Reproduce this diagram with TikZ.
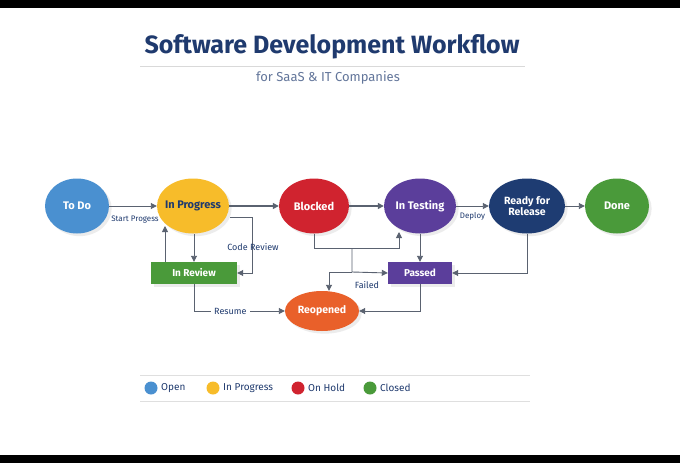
\documentclass[tikz,border=0pt]{standalone}
\usepackage{fontspec}
\setmainfont{Fira Sans}
\usetikzlibrary{arrows.meta,shapes.geometric,shadows}
\definecolor{navy}{HTML}{1F3A6E}
\definecolor{cblue}{HTML}{4A90D0}
\definecolor{cyellow}{HTML}{F7BC2A}
\definecolor{cred}{HTML}{D0232F}
\definecolor{cpurple}{HTML}{5B3E9B}
\definecolor{cnavy}{HTML}{1E3C72}
\definecolor{cgreen}{HTML}{4A9A3A}
\definecolor{corange}{HTML}{E9602A}
\definecolor{cline}{HTML}{5A6270}

\begin{document}
\begin{tikzpicture}[x=1pt,y=-1pt,
    state/.style={ellipse, draw=none, minimum width=#1, minimum height=55pt, inner sep=-4pt,
        text=white, font=\bfseries\fontsize{11}{12}\selectfont, align=center,
        drop shadow={opacity=0.15}},
    box/.style={rectangle, draw=none, minimum height=22pt, text=white,
        font=\bfseries\fontsize{10}{11}\selectfont, drop shadow={opacity=0.15}},
    flow/.style={-{Triangle[length=6pt,width=6pt]}, line width=1.2pt, color=cline},
    thin flow/.style={-{Triangle[length=6pt,width=6pt]}, line width=0.9pt, color=cline},
    lbl/.style={font=\fontsize{9}{10}\selectfont, text=navy},
    dot/.style={circle, minimum size=13pt, inner sep=0pt}]

    % Background and frame bars
    \fill[white] (0,0) rectangle (680,463);
    \fill[black] (0,0) rectangle (680,8);
    \fill[black] (0,455) rectangle (680,463);

    % Title
    \node[font=\bfseries\fontsize{25}{28}\selectfont, text=navy] (title) at (332,47) {Software Development Workflow};
    \draw[gray!30, line width=0.8pt] (140,66) -- (525,66);
    \node[font=\fontsize{13}{15}\selectfont, text=navy!70] (subtitle) at (328,78) {for SaaS \& IT Companies};

    % States
    \node[state=64pt, fill=cblue] (todo) at (77,206) {To Do};
    \node[state=72pt, fill=cyellow, text=navy] (progress) at (193,206) {In Progress};
    \node[state=70pt, fill=cred] (blocked) at (314,206) {Blocked};
    \node[state=72pt, fill=cpurple] (testing) at (420,206) {In Testing};
    \node[state=76pt, fill=cnavy, font=\bfseries\fontsize{10.5}{11.5}\selectfont] (ready) at (527,206) {Ready for\\Release};
    \node[state=64pt, fill=cgreen] (done) at (617,206) {Done};
    \node[box, fill=cgreen, minimum width=86pt] (review) at (194,273) {In Review};
    \node[box, fill=cpurple, minimum width=64pt] (passed) at (420,273) {Passed};
    \node[state=74pt, fill=corange, minimum height=40pt, font=\bfseries\fontsize{10.5}{11.5}\selectfont] (reopened) at (322,311) {Reopened};

    % Junctions
    \coordinate (j1) at (352,248);
    \coordinate (j2) at (352,272);

    % Main flow
    \draw[thin flow] (todo) -- (progress);
    \node[lbl, font=\fontsize{8}{9}\selectfont] (startlbl) at (135,220) {Start Progess};
    \draw[flow] (progress) -- (blocked);
    \draw[flow] (blocked) -- (testing);
    \draw[thin flow] (testing) -- (ready) node[lbl, midway, below=3pt, font=\fontsize{8}{9}\selectfont] {Deploy};
    \draw[thin flow] (ready) -- (done);

    % Review loop
    \draw[thin flow] (194,234) -- (review.north -| 194,0);
    \draw[thin flow] (review.north -| 165,0) -- (165,226);
    \draw[thin flow] (230,217) -- (252,217) |- (review.east);
    \node[lbl] (coderev) at (253,247) {Code Review};
    \draw[thin flow] (review.south) |- (reopened.west)
        node[lbl, pos=0.7, fill=white] {Resume};

    % Blocked and testing paths
    \draw[thin flow] (blocked.south) |- (399,248) -- (399,232);
    \draw[thin flow] (j1) -- (j2) -- (passed.west);
    \draw[thin flow] (j2) -| (reopened.north -| 329,0);
    \node[lbl] (failed) at (367,285) {Failed};
    \draw[thin flow] (testing.south) -- (passed.north);
    \draw[thin flow] (ready.south) |- (passed.east);
    \draw[thin flow] (passed.south) |- (reopened.east);

    % Legend
    \draw[gray!25, line width=0.8pt] (140,375) -- (530,375);
    \draw[gray!25, line width=0.8pt] (140,401) -- (530,401);
    \node[dot, fill=cblue, label={[lbl, font=\fontsize{10}{11}\selectfont]right:Open}] (lopen) at (151,388) {};
    \node[dot, fill=cyellow, label={[lbl, font=\fontsize{10}{11}\selectfont]right:In Progress}] (lprog) at (213,388) {};
    \node[dot, fill=cred, label={[lbl, font=\fontsize{10}{11}\selectfont]right:On Hold}] (lhold) at (298,388) {};
    \node[dot, fill=cgreen, label={[lbl, font=\fontsize{10}{11}\selectfont]right:Closed}] (lclosed) at (370,388) {};
\end{tikzpicture}
\end{document}
